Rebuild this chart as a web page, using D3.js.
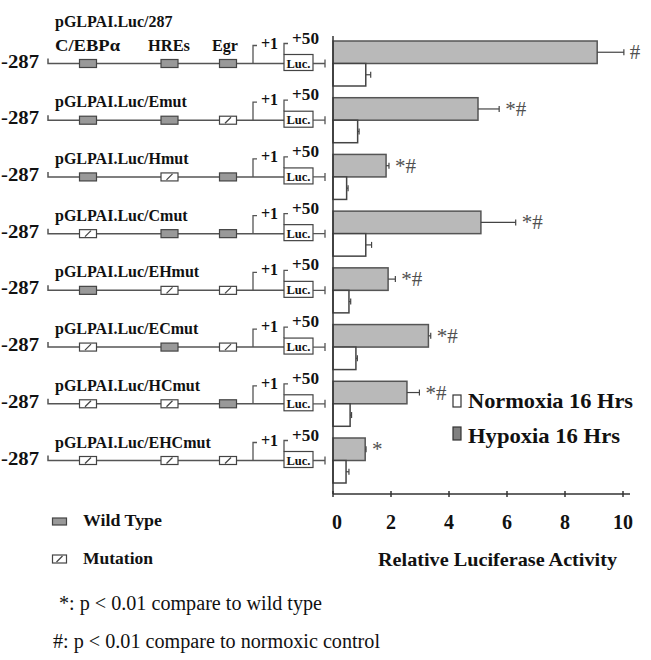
<!DOCTYPE html>
<html>
<head>
<meta charset="utf-8">
<script src="https://cdn.jsdelivr.net/npm/d3@7"></script>
<style>
  body { margin: 0; background: #fff; }
  svg text { font-family: "Liberation Serif", "Times New Roman", serif; }
</style>
</head>
<body>
<svg id="chart" width="651" height="660"></svg>
<script>
// constructs, top to bottom
var constructs = ["pGLPAI.Luc/287", "pGLPAI.Luc/Emut", "pGLPAI.Luc/Hmut", "pGLPAI.Luc/Cmut",
                  "pGLPAI.Luc/EHmut", "pGLPAI.Luc/ECmut", "pGLPAI.Luc/HCmut", "pGLPAI.Luc/EHCmut"];
// element state per construct: C/EBPa, HREs, Egr (1 = wild type, 0 = mutation)
var cebpState = [1, 1, 1, 0, 1, 0, 0, 0];
var hreState  = [1, 1, 0, 1, 0, 1, 0, 0];
var egrState  = [1, 0, 1, 1, 0, 0, 1, 0];
// relative luciferase activity
var hypoxia    = [9.11, 5.0, 1.83, 5.1, 1.9, 3.29, 2.55, 1.11];
var hypoxiaErr = [0.92, 0.73, 0.1, 1.2, 0.25, 0.08, 0.43, 0.03];
var normoxia    = [1.13, 0.85, 0.47, 1.13, 0.55, 0.79, 0.59, 0.45];
var normoxiaErr = [0.17, 0.05, 0.05, 0.2, 0.06, 0.05, 0.05, 0.1];
var marks = ["#", "*#", "*#", "*#", "*#", "*#", "*#", "*"];
var xTicks = [0, 2, 4, 6, 8, 10];

var svg = d3.select("#chart");
var ink = "#333";

var x = d3.scaleLinear().domain([0, 10]).range([333, 623]);
var y = d3.scalePoint().domain(constructs).range([63.5, 460.5]);
var barH = 22.5;

// ---- bars ----
var g = svg.append("g");
constructs.forEach(function(name, i) {
  var c = y(name);
  // hypoxia (gray) on top
  g.append("rect").attr("x", x(0)).attr("y", c - barH)
    .attr("width", x(hypoxia[i]) - x(0)).attr("height", barH)
    .attr("fill", "#b9b9b9").attr("stroke", "#555").attr("stroke-width", 1.5);
  g.append("rect").attr("x", x(0)).attr("y", c)
    .attr("width", x(normoxia[i]) - x(0)).attr("height", barH)
    .attr("fill", "#fff").attr("stroke", "#444").attr("stroke-width", 1.5);

  // error bars
  [[hypoxia[i], hypoxiaErr[i], c - barH / 2], [normoxia[i], normoxiaErr[i], c + barH / 2]].forEach(function(d) {
    var x1 = x(d[0]), x2 = x(d[0] + d[1]);
    g.append("line").attr("x1", x1).attr("x2", x2).attr("y1", d[2]).attr("y2", d[2])
      .attr("stroke", "#444").attr("stroke-width", 1.2);
    g.append("line").attr("x1", x2).attr("x2", x2).attr("y1", d[2] - 3).attr("y2", d[2] + 3)
      .attr("stroke", "#444").attr("stroke-width", 1.2);
  });

  g.append("text").attr("x", x(hypoxia[i] + hypoxiaErr[i]) + 6).attr("y", c - barH / 2 + 7)
    .attr("font-size", 21).attr("fill", "#505050").text(marks[i]);
});

// ---- axes ----
svg.append("line").attr("x1", x(0)).attr("x2", x(0)).attr("y1", 36).attr("y2", 494)
  .attr("stroke", ink).attr("stroke-width", 1.5);
svg.append("line").attr("x1", x(0)).attr("x2", 630).attr("y1", 494).attr("y2", 494)
  .attr("stroke", ink).attr("stroke-width", 1.5);
var ax = svg.append("g");
ax.selectAll("line.tick").data(xTicks).enter().append("line")
  .attr("x1", function(d) { return x(d); }).attr("x2", function(d) { return x(d); })
  .attr("y1", 491).attr("y2", 497).attr("stroke", ink).attr("stroke-width", 1.5);
ax.selectAll("text").data(xTicks).enter().append("text")
  .attr("x", function(d) { return x(d) + (d === 0 ? 4 : 0); }).attr("y", 529)
  .attr("text-anchor", "middle").attr("font-size", 20).attr("font-weight", "bold")
  .attr("fill", "#111").text(function(d) { return d; });
svg.append("text").attr("x", 378).attr("y", 566)
  .attr("font-size", 19).attr("font-weight", "bold").attr("fill", "#111")
  .attr("textLength", 239).attr("lengthAdjust", "spacingAndGlyphs")
  .text("Relative Luciferase Activity");

// ---- legend ----
svg.append("rect").attr("x", 453).attr("y", 395).attr("width", 8).attr("height", 12)
  .attr("fill", "#fff").attr("stroke", "#333").attr("stroke-width", 1.2);
svg.append("text").attr("x", 468).attr("y", 408).attr("font-size", 21).attr("font-weight", "bold")
  .attr("fill", "#111").attr("textLength", 165).attr("lengthAdjust", "spacingAndGlyphs")
  .text("Normoxia 16 Hrs");
svg.append("rect").attr("x", 453).attr("y", 427).attr("width", 8).attr("height", 13)
  .attr("fill", "#808080").attr("stroke", "#333").attr("stroke-width", 1.2);
svg.append("text").attr("x", 468).attr("y", 443).attr("font-size", 21).attr("font-weight", "bold")
  .attr("fill", "#111").attr("textLength", 152).attr("lengthAdjust", "spacingAndGlyphs")
  .text("Hypoxia 16 Hrs");

// ---- construct diagrams ----
var line = "#555";
function element(gr, cx, c, wild, w, h) {
  w = w || 17; h = h || 8;
  gr.append("rect").attr("x", cx - w / 2).attr("y", c - h / 2).attr("width", w).attr("height", h)
    .attr("fill", wild ? "#999" : "#fff").attr("stroke", "#444").attr("stroke-width", 1.2);
  if (!wild) {
    gr.append("line").attr("x1", cx - 3).attr("x2", cx + 3).attr("y1", c + h / 2 - 1).attr("y2", c - h / 2 + 1)
      .attr("stroke", "#444").attr("stroke-width", 1.2);
  }
}

constructs.forEach(function(name, i) {
  var c = y(name);
  var d = svg.append("g");
  d.append("text").attr("x", 1).attr("y", c + 4).attr("font-size", 18).attr("font-weight", "bold")
    .attr("fill", "#111").attr("textLength", 38).attr("lengthAdjust", "spacingAndGlyphs").text("-287");
  d.append("path").attr("d", "M48," + (c - 5) + "V" + c + "H284")
    .attr("fill", "none").attr("stroke", line).attr("stroke-width", 1.5);
  element(d, 88, c, cebpState[i]);
  element(d, 169.5, c, hreState[i]);
  element(d, 228, c, egrState[i]);
  // +1 bracket
  d.append("path").attr("d", "M253," + c + "V" + (c - 18) + "H257")
    .attr("fill", "none").attr("stroke", line).attr("stroke-width", 1.3);
  d.append("text").attr("x", 261).attr("y", c - 15).attr("font-size", 16).attr("font-weight", "bold")
    .attr("fill", "#111").text("+1");
  // +50 bracket
  d.append("path").attr("d", "M284," + (c - 9) + "V" + (c - 20) + "H288")
    .attr("fill", "none").attr("stroke", line).attr("stroke-width", 1.3);
  d.append("text").attr("x", 292).attr("y", c - 20).attr("font-size", 16).attr("font-weight", "bold")
    .attr("fill", "#111").attr("textLength", 27).attr("lengthAdjust", "spacingAndGlyphs").text("+50");
  // Luc box
  d.append("rect").attr("x", 284).attr("y", c - 9).attr("width", 29).attr("height", 16)
    .attr("fill", "#fff").attr("stroke", "#444").attr("stroke-width", 1.2);
  d.append("text").attr("x", 298.5).attr("y", c + 4).attr("text-anchor", "middle")
    .attr("font-size", 12.5).attr("font-weight", "bold").attr("fill", "#111").text("Luc.");
  d.append("path").attr("d", "M313," + c + "H325M325," + (c - 4) + "V" + (c + 4))
    .attr("fill", "none").attr("stroke", line).attr("stroke-width", 1.3);
  // title
  d.append("text").attr("x", 55).attr("y", i === 0 ? 27 : c - 13)
    .attr("font-size", 16).attr("font-weight", "bold").attr("fill", "#111").text(name);
});

// element labels above first construct
var c0 = y(constructs[0]);
[["C/EBPα", 55, 65], ["HREs", 148, 42], ["Egr", 212, 26]].forEach(function(l) {
  svg.append("text").attr("x", l[1]).attr("y", c0 - 13).attr("font-size", 17)
    .attr("font-weight", "bold").attr("fill", "#111")
    .attr("textLength", l[2]).attr("lengthAdjust", "spacingAndGlyphs").text(l[0]);
});

// ---- key for diagram ----
element(svg, 59.5, 521.5, 1, 14, 7);
svg.append("text").attr("x", 83).attr("y", 526).attr("font-size", 17.5).attr("font-weight", "bold")
  .attr("fill", "#111").attr("textLength", 79).attr("lengthAdjust", "spacingAndGlyphs").text("Wild Type");
element(svg, 59.5, 559, 0, 14, 8);
svg.append("text").attr("x", 83).attr("y", 564).attr("font-size", 17.5).attr("font-weight", "bold")
  .attr("fill", "#111").attr("textLength", 70).attr("lengthAdjust", "spacingAndGlyphs").text("Mutation");

// ---- footnotes ----
svg.append("text").attr("x", 59).attr("y", 610).attr("font-size", 20).attr("fill", "#111")
  .attr("textLength", 263).attr("lengthAdjust", "spacingAndGlyphs")
  .text("*: p < 0.01 compare to wild type");
svg.append("text").attr("x", 53).attr("y", 648).attr("font-size", 20).attr("fill", "#111")
  .attr("textLength", 327).attr("lengthAdjust", "spacingAndGlyphs")
  .text("#: p < 0.01 compare to normoxic control");
</script>
</body>
</html>
